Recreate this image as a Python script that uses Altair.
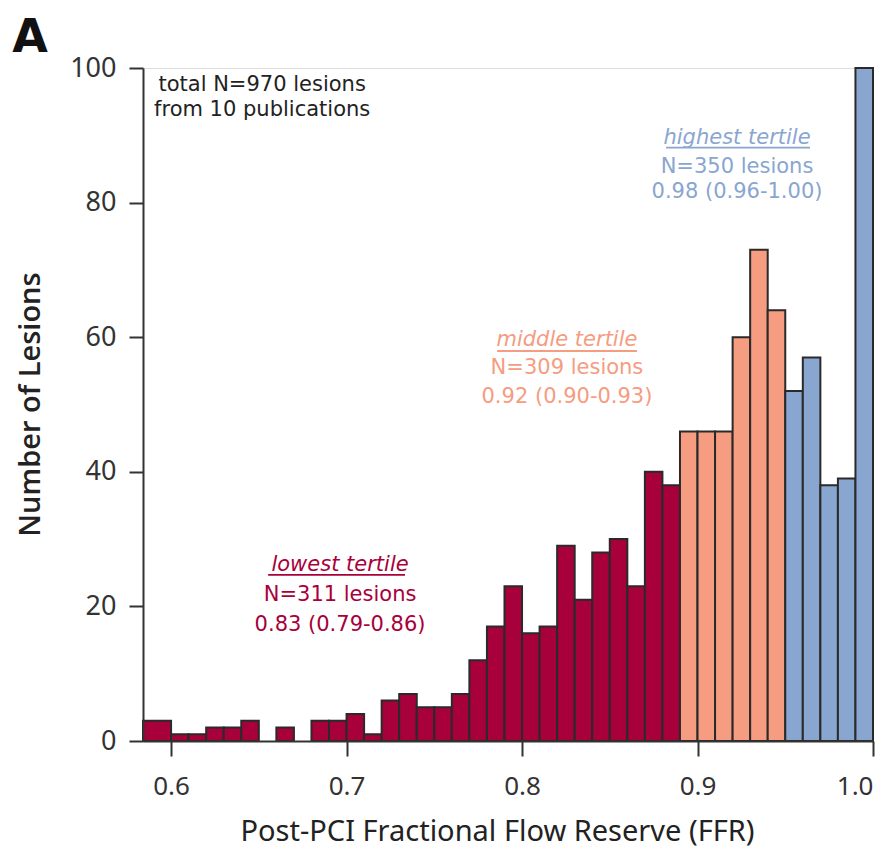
import altair as alt
import pandas as pd

# ---------------- data ----------------
bin_start = [0.584,
             0.60, 0.61, 0.62, 0.63, 0.64, 0.65, 0.66, 0.67, 0.68, 0.69,
             0.70, 0.71, 0.72, 0.73, 0.74, 0.75, 0.76, 0.77, 0.78, 0.79,
             0.80, 0.81, 0.82, 0.83, 0.84, 0.85, 0.86, 0.87, 0.88, 0.89,
             0.90, 0.91, 0.92, 0.93, 0.94, 0.95, 0.96, 0.97, 0.98, 0.99]
bin_end = [0.60,
           0.61, 0.62, 0.63, 0.64, 0.65, 0.66, 0.67, 0.68, 0.69, 0.70,
           0.71, 0.72, 0.73, 0.74, 0.75, 0.76, 0.77, 0.78, 0.79, 0.80,
           0.81, 0.82, 0.83, 0.84, 0.85, 0.86, 0.87, 0.88, 0.89, 0.90,
           0.91, 0.92, 0.93, 0.94, 0.95, 0.96, 0.97, 0.98, 0.99, 1.00]
counts = [3,
          1, 1, 2, 2, 3, 0, 2, 0, 3, 3,
          4, 1, 6, 7, 5, 5, 7, 12, 17, 23,
          16, 17, 29, 21, 28, 30, 23, 40, 38, 46,
          46, 46, 60, 73, 64, 52, 57, 38, 39, 100]
tertile = (["lowest"] * 30) + (["middle"] * 6) + (["highest"] * 5)

tertile_names = ["lowest", "middle", "highest"]
tertile_colors = ["#a8003b", "#f59c81", "#89a6d0"]
text_colors = ["#ac0f44", "#f5a085", "#8ba7d0"]

# annotation text (placed in data coordinates)
ann_group = ["lowest"] * 3 + ["middle"] * 3 + ["highest"] * 3
ann_text = ["lowest tertile", "N=311 lesions", "0.83 (0.79-0.86)",
            "middle tertile", "N=309 lesions", "0.92 (0.90-0.93)",
            "highest tertile", "N=350 lesions", "0.98 (0.96-1.00)"]
ann_italic = [True, False, False] * 3
ann_x = [0.6963] * 3 + [0.8256] * 3 + [0.9225] * 3
ann_y = [26.15, 21.69, 17.24, 59.58, 55.42, 51.11, 89.60, 85.29, 81.58]

ul_group = ["lowest", "middle", "highest"]
ul_x1 = [0.6553, 0.7858, 0.8821]
ul_x2 = [0.7333, 0.8655, 0.9641]
ul_y = [24.67, 57.95, 88.16]

total_text = ["total N=970 lesions", "from 10 publications"]
total_x = [0.6519, 0.6519]
total_y = [97.47, 93.76]

x_ticks = [0.6, 0.7, 0.8, 0.9, 1.0]
y_ticks = [0, 20, 40, 60, 80, 100]

FONT = "Noto Sans"
ANN_FONT = "DejaVu Sans"

bars_df = pd.DataFrame({"start": bin_start, "end": bin_end,
                        "count": counts, "tertile": tertile})
ann_df = pd.DataFrame({"group": ann_group, "text": ann_text,
                       "italic": ann_italic, "x": ann_x, "y": ann_y})
ul_df = pd.DataFrame({"group": ul_group, "x1": ul_x1, "x2": ul_x2, "y": ul_y})
tot_df = pd.DataFrame({"text": total_text, "x": total_x, "y": total_y})

xscale = alt.Scale(domain=[0.584, 1.0], nice=False, zero=False)
yscale = alt.Scale(domain=[0, 100], nice=False)
color_scale = alt.Scale(domain=tertile_names, range=tertile_colors)
text_scale = alt.Scale(domain=tertile_names, range=text_colors)

x_axis = alt.Axis(values=x_ticks, format=".1f", title="Post-PCI Fractional Flow Reserve (FFR)",
                  grid=False, tickSize=15, tickWidth=2, tickColor="#333333",
                  domainColor="#333333", domainWidth=2, labelFontSize=26,
                  labelColor="#333333", labelPadding=17, labelFont=FONT,
                  titleFont=FONT, titleFontSize=29, titleFontWeight="normal",
                  titleColor="#222222", titleX=354, titleY=90,
                  titleBaseline="middle", titleAlign="center", zindex=1)
y_axis = alt.Axis(values=y_ticks, title="Number of Lesions", grid=False,
                  tickSize=14, tickWidth=2, tickColor="#333333",
                  domainColor="#333333", domainWidth=2, labelFontSize=27,
                  labelColor="#333333", labelPadding=13, labelFont=FONT,
                  titleFont="Open Sans", titleFontSize=29, titleFontWeight=600,
                  titleColor="#222222", titleX=-113, titleY=336,
                  titleBaseline="middle", titleAlign="center", titleAngle=-90,
                  zindex=1)

bars = alt.Chart(bars_df).transform_filter("datum.count > 0").mark_rect(
    stroke="#2a2a2a", strokeWidth=2
).encode(
    x=alt.X("start:Q", scale=xscale, axis=x_axis),
    x2="end:Q",
    y=alt.Y("count:Q", scale=yscale, axis=y_axis),
    y2=alt.datum(0),
    color=alt.Color("tertile:N", scale=color_scale, legend=None),
)

def ann_layer(italic):
    return alt.Chart(ann_df).transform_filter(
        "datum.italic" if italic else "!datum.italic"
    ).mark_text(font=ANN_FONT, fontSize=21, baseline="middle",
                align="center",
                fontStyle="italic" if italic else "normal").encode(
        x=alt.X("x:Q", scale=xscale),
        y=alt.Y("y:Q", scale=yscale),
        text="text:N",
        color=alt.Color("group:N", scale=text_scale, legend=None),
    )

underline = alt.Chart(ul_df).mark_rule(strokeWidth=1.8).encode(
    x=alt.X("x1:Q", scale=xscale),
    x2="x2:Q",
    y=alt.Y("y:Q", scale=yscale),
    color=alt.Color("group:N", scale=text_scale, legend=None),
)

total = alt.Chart(tot_df).mark_text(font=ANN_FONT, fontSize=21, baseline="middle",
                                    align="center", color="#222222").encode(
    x=alt.X("x:Q", scale=xscale),
    y=alt.Y("y:Q", scale=yscale),
    text="text:N",
)

panel = alt.Chart(pd.DataFrame({"t": ["A"]})).mark_text(
    font="DejaVu Sans", fontSize=46, fontWeight="bold", color="#111111",
    align="center", baseline="alphabetic"
).encode(x=alt.value(-113), y=alt.value(-16), text="t:N")

chart = alt.layer(bars, underline, ann_layer(True), ann_layer(False), total, panel).properties(
    width=730, height=673,
    autosize=alt.AutoSizeParams(type="none"),
    padding={"left": 135, "top": 60, "right": 10, "bottom": 109},
).configure_view(stroke=None).configure(background="white")

chart.save("out.html", embed_options={"renderer": "svg", "actions": False})
